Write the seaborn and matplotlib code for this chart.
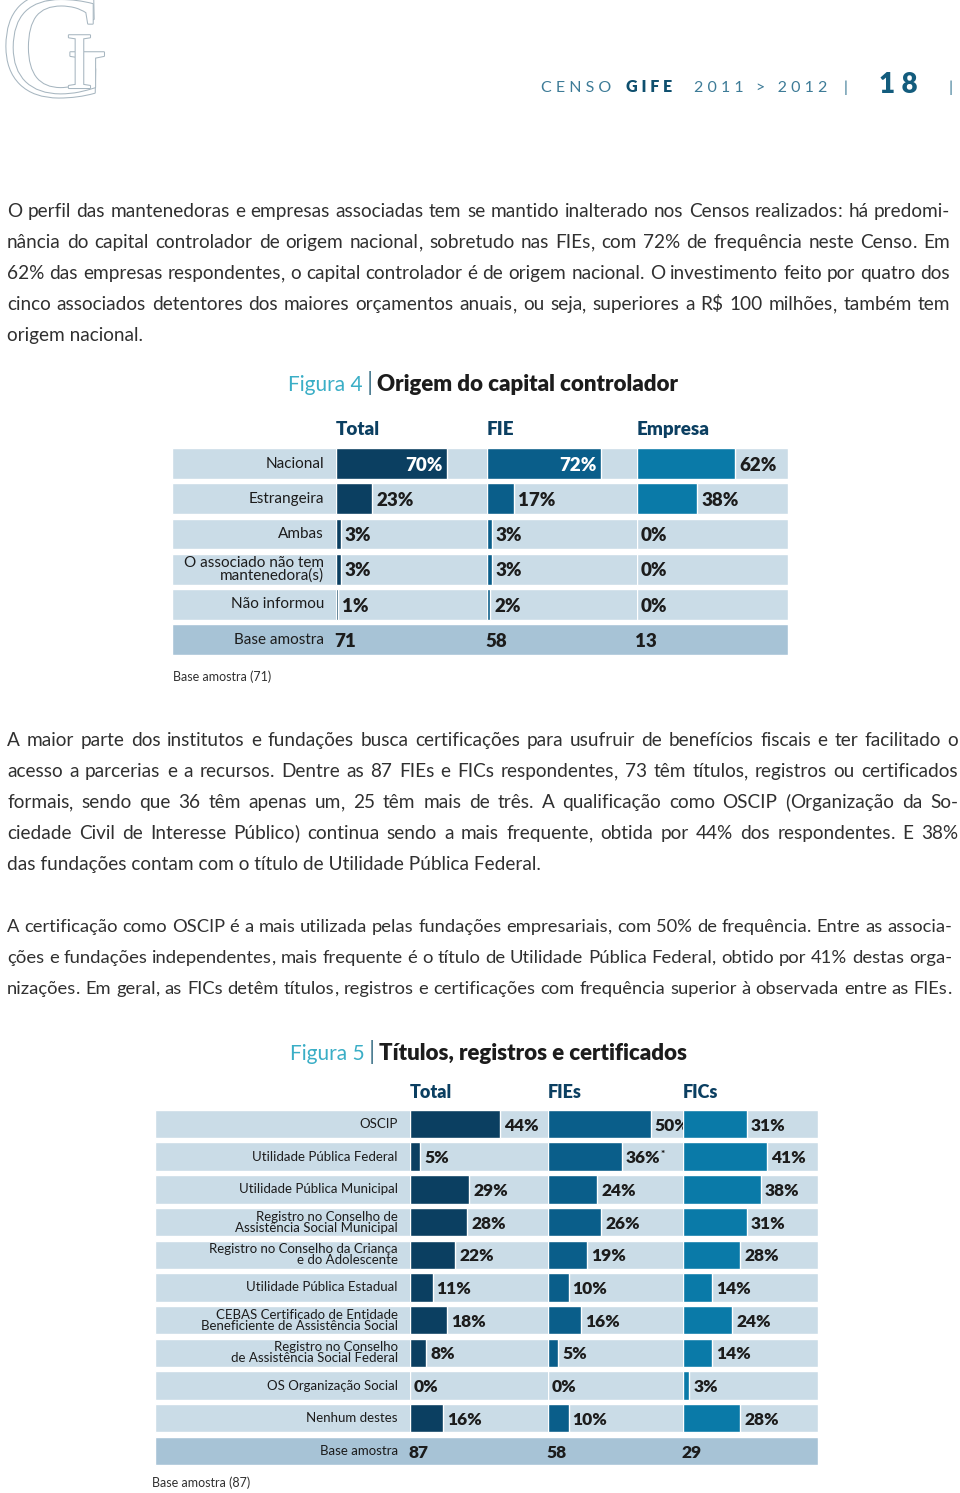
import re
import matplotlib.pyplot as plt
import matplotlib.patheffects as pe
from matplotlib import font_manager
from matplotlib.transforms import blended_transform_factory
import seaborn as sns
import pandas as pd
import numpy as np

W, H = 960, 1493

# ---- data: Figura 4 ----
fig4_categories = ["Nacional", "Estrangeira", "Ambas",
                   "O associado não tem\nmantenedora(s)", "Não informou"]
fig4_groups = ["Total", "FIE", "Empresa"]
fig4_total = [70, 23, 3, 3, 1]
fig4_fie = [72, 17, 3, 3, 2]
fig4_empresa = [62, 38, 0, 0, 0]
fig4_base = [71, 58, 13]

# ---- data: Figura 5 ----
fig5_categories = ["OSCIP", "Utilidade Pública Federal", "Utilidade Pública Municipal",
                   "Registro no Conselho de\nAssistência Social Municipal",
                   "Registro no Conselho da Criança\ne do Adolescente",
                   "Utilidade Pública Estadual",
                   "CEBAS Certificado de Entidade\nBeneficiente de Assistência Social",
                   "Registro no Conselho\nde Assistência Social Federal",
                   "OS Organização Social", "Nenhum destes"]
fig5_groups = ["Total", "FIEs", "FICs"]
fig5_total = [44, 5, 29, 28, 22, 11, 18, 8, 0, 16]
fig5_fies = [50, 36, 24, 26, 19, 10, 16, 5, 0, 10]
fig5_fics = [31, 41, 38, 31, 28, 14, 24, 14, 3, 28]
fig5_base = [87, 58, 29]
fig5_marks = {("FIEs", 1): "*"}

# ---- text ----
par1 = [
    "O perfil das mantenedoras e empresas associadas tem se mantido inalterado nos Censos realizados: há predomi-",
    "nância do capital controlador de origem nacional, sobretudo nas FIEs, com 72% de frequência neste Censo. Em",
    "62% das empresas respondentes, o capital controlador é de origem nacional. O investimento feito por quatro dos",
    "cinco associados detentores dos maiores orçamentos anuais, ou seja, superiores a R$ 100 milhões, também tem",
    "origem nacional.",
]
par2 = [
    "A maior parte dos institutos e fundações busca certificações para usufruir de benefícios fiscais e ter facilitado o",
    "acesso a parcerias e a recursos. Dentre as 87 FIEs e FICs respondentes, 73 têm títulos, registros ou certificados",
    "formais, sendo que 36 têm apenas um, 25 têm mais de três. A qualificação como OSCIP (Organização da So-",
    "ciedade Civil de Interesse Público) continua sendo a mais frequente, obtida por 44% dos respondentes. E  38%",
    "das fundações contam com o título de Utilidade Pública Federal.",
]
par3 = [
    "A certificação como OSCIP é a mais utilizada pelas fundações empresariais, com 50% de frequência. Entre as associa-",
    "ções e fundações independentes, mais frequente é o título de Utilidade Pública Federal, obtido por 41% destas orga-",
    "nizações. Em geral, as FICs detêm títulos, registros e certificações com frequência superior à observada entre as FIEs.",
]

COLORS = ["#0b3f61", "#0a5e8a", "#0a7aa8"]
BAND = "#cadce7"
BASE_BAND = "#a7c3d6"
DARK = "#1c1c1c"
BODY = "#303030"
TEAL = "#3aaec6"
HEAD = "#3d7b97"

sns.set_theme(style="white")
installed = {f.name for f in font_manager.fontManager.ttflist}
MAIN = next((f for f in ["Lato", "Open Sans", "DejaVu Sans"] if f in installed), "DejaVu Sans")
plt.rcParams["font.family"] = [MAIN]
SERIF = [f for f in ["Liberation Serif", "DejaVu Serif"] if f in installed][:1]


def fx(px):
    return px / W


def fy(py):
    return 1 - py / H


fig = plt.figure(figsize=(W / 100, H / 100), dpi=100)
renderer = fig.canvas.get_renderer()
overlay = fig.add_axes([0, 0, 1, 1])
overlay.axis("off")

# ---- header / logo ----
logo = dict(color="white", va="baseline", family=SERIF,
            path_effects=[pe.withStroke(linewidth=1.5, foreground="#a7b6c0")])
fig.text(fx(0), fy(96), "C", fontsize=112, **logo)
fig.text(fx(8), fy(92), "G", fontsize=100, **logo)
fig.text(fx(66), fy(88), "I", fontsize=58, **logo)

fig.text(fx(541), fy(92), "C E N S O", fontsize=11.5, color=HEAD, va="baseline")
fig.text(fx(626), fy(92), "G I F E", fontsize=11.5, color="#0e4f6e", weight="heavy", va="baseline")
fig.text(fx(694), fy(92), "2 0 1 1   >   2 0 1 2    |", fontsize=11.5, color=HEAD, va="baseline")
fig.text(fx(879), fy(93), "1 8", fontsize=20, color="#135c7d", weight="heavy", va="baseline")
fig.text(fx(948), fy(92), "|", fontsize=11.5, color=HEAD, va="baseline")

# ---- body paragraphs (justified) ----
BODY_STYLE = dict(color=BODY, va="baseline", family=MAIN)


def width_of(s, size):
    t = fig.text(0, 0, s, fontsize=size, **BODY_STYLE)
    w = t.get_window_extent(renderer).width
    t.remove()
    return w


paragraphs = [(par1, 7, 950, 217), (par2, 7, 958, 746), (par3, 7, 952, 932)]
ratios = [(x1 - x0) / width_of(line, 14)
          for lines, x0, x1, _ in paragraphs for line in lines[:-1]]
BODY_SIZE = 14 * float(np.median(ratios)) * 0.985


def pieces(word):
    # keep punctuation apart so every word sits on the same baseline
    m = re.match(r"^(\(?)(.*?)([,.:;)]*)$", word)
    return [p for p in m.groups() if p]


def paragraph(lines, x0, x1, y_first, pitch=31):
    for i, line in enumerate(lines):
        yb = fy(y_first + i * pitch)
        natural = width_of(line, BODY_SIZE)
        if i == len(lines) - 1 and natural < 0.85 * (x1 - x0):
            fig.text(fx(x0), yb, line, fontsize=BODY_SIZE, **BODY_STYLE)
            continue
        size = min(BODY_SIZE, BODY_SIZE * (x1 - x0) / natural * 0.995)
        words = [w for w in line.split(" ") if w]
        groups = []
        for w in words:
            arts = [fig.text(0, yb, p, fontsize=size, **BODY_STYLE) for p in pieces(w)]
            groups.append((arts, [a.get_window_extent(renderer).width for a in arts]))
        total = sum(sum(ws) for _, ws in groups)
        gap = (x1 - x0 - total) / (len(words) - 1)
        x = x0
        for arts, ws in groups:
            for a, w in zip(arts, ws):
                a.set_x(fx(x))
                x += w
            x += gap


for lines, x0, x1, y in paragraphs:
    paragraph(lines, x0, x1, y)


# ---- charts ----
def title(num, text, x, y):
    t1 = overlay.text(fx(x), fy(y), f"Figura {num}", transform=fig.transFigure,
                      fontsize=15, color=TEAL, va="baseline")
    t2 = overlay.annotate("|", xy=(1, 0), xycoords=t1, xytext=(3, 0), textcoords="offset points",
                          fontsize=18, color="#4f7f93", va="bottom")
    overlay.annotate(text, xy=(1, 0), xycoords=t2, xytext=(3, 0), textcoords="offset points",
                     fontsize=16, color=DARK, weight="heavy", va="bottom")


def chart(cats, groups, series, bases, g, marks=None):
    marks = marks or {}
    n = len(cats) + 1
    top, pitch = g["top"], g["pitch"]
    y0 = fy(top + n * pitch)
    h = n * pitch / H
    bg = fig.add_axes([fx(g["band_x0"]), y0, (g["band_x1"] - g["band_x0"]) / W, h])
    bg.set_xlim(0, 1)
    bg.set_ylim(n - 0.5, -0.5)
    bg.axis("off")
    bg.barh(range(n), [1] * n, height=g["band"], color=[BAND] * (n - 1) + [BASE_BAND])
    tr = blended_transform_factory(fig.transFigure, bg.transData)
    for i, c in enumerate(cats + ["Base amostra"]):
        bg.text(fx(g["label_x"]), i, c, transform=tr, ha="right", va="center",
                fontsize=g["label_size"], color=DARK, linespacing=0.9)
    for name, vals, base, color, cx in zip(groups, series, bases, COLORS, g["col_x"]):
        ax = fig.add_axes([fx(cx), y0, g["col_w"] / W, h])
        df = pd.DataFrame({"cat": cats, "val": vals})
        sns.barplot(data=df, x="val", y="cat", orient="h", color=color, width=g["band"],
                    saturation=1, errorbar=None, ax=ax)
        ax.set_xlim(0, g["col_w"] / g["ppp"])
        ax.set_ylim(n - 0.5, -0.5)
        ax.axis("off")
        pad = 4 / g["ppp"]
        for i, v in enumerate(vals):
            if v > 65:
                t = ax.text(v - pad, i + 0.05, f"{v}%", ha="right", va="center", color="white",
                            fontsize=g["val_size"], weight="heavy")
            else:
                t = ax.text(v + pad, i + 0.05, f"{v}%", ha="left", va="center", color=DARK,
                            fontsize=g["val_size"], weight="heavy")
            if (name, i) in marks:
                ax.annotate(marks[(name, i)], xy=(1, 1), xycoords=t, va="top",
                            fontsize=7, color=DARK, weight="heavy")
        ax.text(-1.5 / g["ppp"], n - 1 + 0.05, str(base), ha="left", va="center", color=DARK,
                fontsize=g["val_size"], weight="heavy")
        ax.text(0, -0.97, name, ha="left", va="center", color=COLORS[0],
                fontsize=g["head_size"], weight="heavy")


title(4, "Origem do capital controlador", 288, 391)
chart(fig4_categories, fig4_groups, [fig4_total, fig4_fie, fig4_empresa], fig4_base,
      dict(top=446, pitch=35.2, band=0.88, band_x0=172, band_x1=788, label_x=324,
           col_x=[336, 487, 637], col_w=151, ppp=1.58, label_size=11, val_size=13.5,
           head_size=13.5))
fig.text(fx(173), fy(677), "Base amostra (71)", fontsize=9, color=BODY, va="center")

title(5, "Títulos, registros e certificados", 290, 1060)
chart(fig5_categories, fig5_groups, [fig5_total, fig5_fies, fig5_fics], fig5_base,
      dict(top=1107.6, pitch=32.7, band=0.87, band_x0=155, band_x1=818, label_x=398,
           col_x=[410, 548, 683], col_w=135, ppp=2.05, label_size=9.5, val_size=12.5,
           head_size=13), marks=fig5_marks)
fig.text(fx(152), fy(1483), "Base amostra (87)", fontsize=9, color=BODY, va="center")

fig.savefig("out.png", dpi=100)
